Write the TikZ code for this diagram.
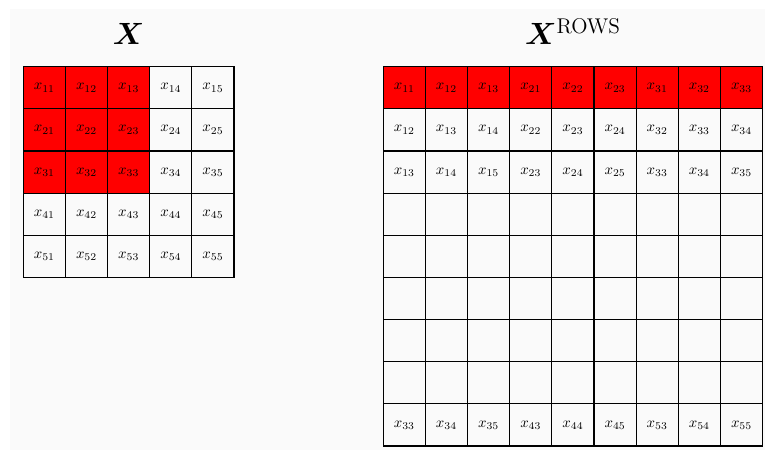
\documentclass[tikz,border=0pt]{standalone}
\usepackage{amsmath,amssymb,bm}
\usepackage{tikz}
\usetikzlibrary{arrows.meta}
\definecolor{panel}{HTML}{FAFAFA}
\tikzset{cell/.style={draw=black,line width=0.8pt,minimum size=1cm,inner sep=0pt,font=\normalsize},
        hot/.style={cell,fill=red},
        heading/.style={anchor=base,font=\fontsize{21.5}{26}\selectfont}}
\begin{document}
\begin{tikzpicture}[>=Stealth]
            \useasboundingbox (-0.553,-9.141) rectangle (17.597,1.582);
            \fill [panel] (-0.316,-9.094) rectangle (17.597,1.369);
            \node [heading] (titleX) at (2.5,0.515) {$\bm{X}$};
            \node [heading] (titleR) at (13.04,0.515) {$\bm{X}^{\mathrm{ROWS}}$};
            \foreach \i in {1,...,5}
              \foreach \j in {1,...,5}{
                \ifnum\i<4 \ifnum\j<4 \def\look{hot}\else\def\look{cell}\fi\else\def\look{cell}\fi
                \node [\look] (X-\i-\j) at (\j-0.5,0.5-\i) {$x_{\i\j}$};
              }
            \foreach \r/\row in {1/{11,12,13,21,22,23,31,32,33},2/{12,13,14,22,23,24,32,33,34},3/{13,14,15,23,24,25,33,34,35},9/{33,34,35,43,44,45,53,54,55}}
              \foreach \e [count=\c] in \row{
                \ifnum\r=1 \def\look{hot}\else\def\look{cell}\fi
                \node [\look] (R-\r-\c) at (8.04+\c,0.5-\r) {$x_{\e}$};
              }
            \foreach \r in {4,...,8}
              \foreach \c in {1,...,9}
                \node [cell] (R-\r-\c) at (8.04+\c,0.5-\r) {};
        \end{tikzpicture}
\end{document}
